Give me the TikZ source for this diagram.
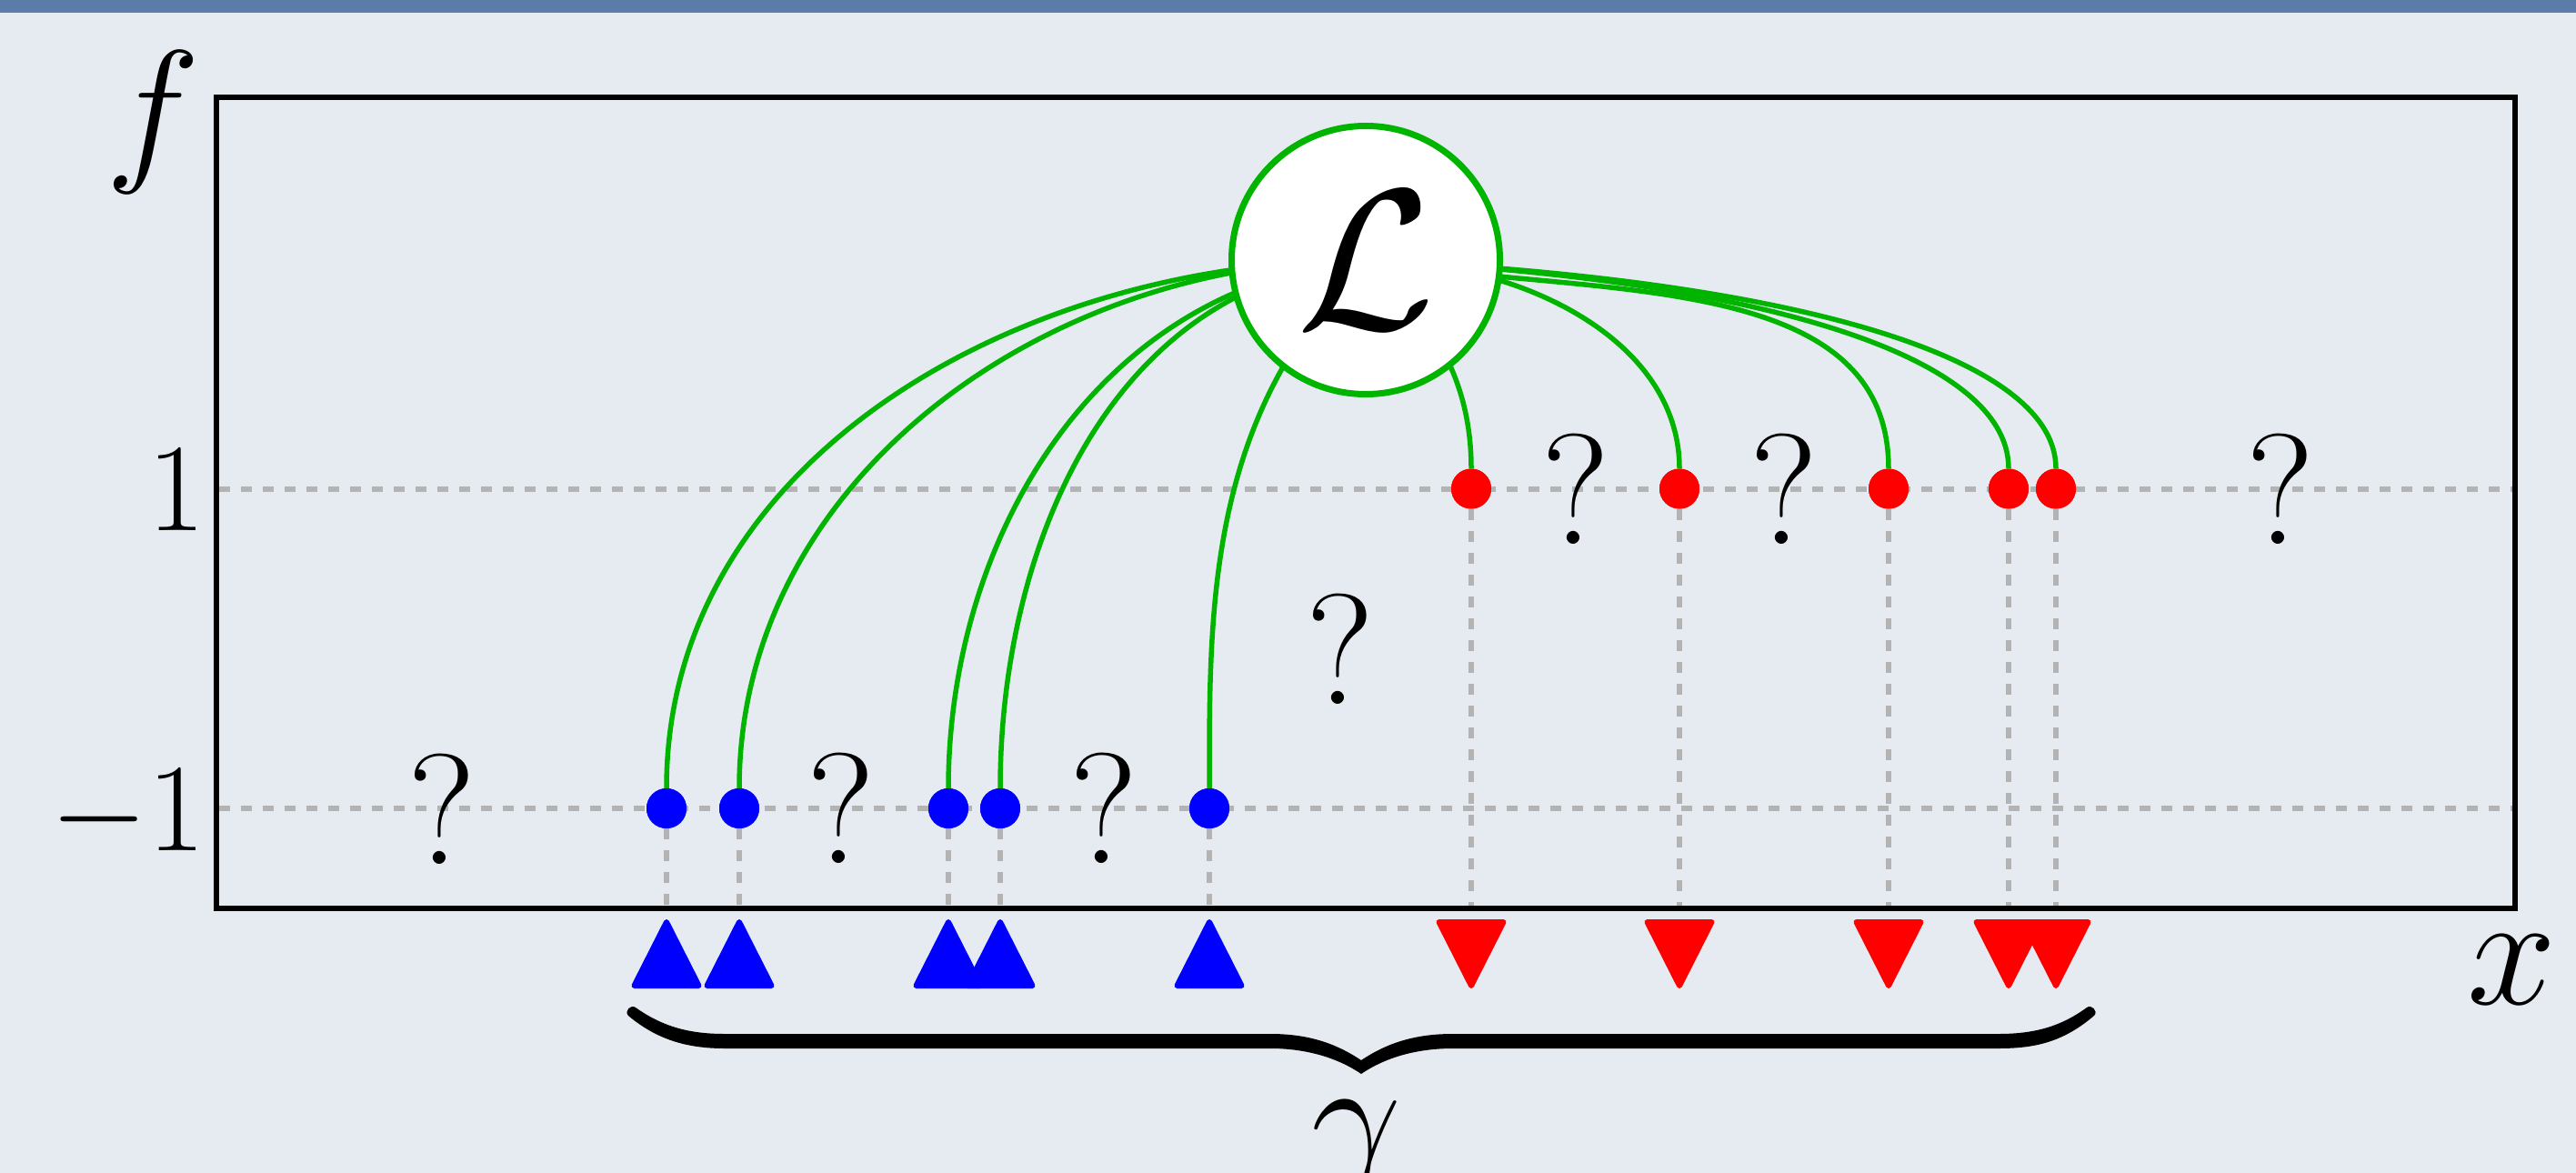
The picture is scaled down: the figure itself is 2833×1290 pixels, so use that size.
\documentclass[tikz,border=0pt]{standalone}
\usepackage{fix-cm}
\definecolor{bgcol}{HTML}{E6EBF2}
\definecolor{topbar}{HTML}{5B7BA8}
\definecolor{lgreen}{HTML}{00B400}
\definecolor{gridgray}{HTML}{B3B3B3}
\begin{document}
\begin{tikzpicture}[x=1pt,y=1pt,
  gridline/.style={gridgray, line width=6pt, dash pattern=on 12pt off 12pt},
  frame/.style={black, line width=6.5pt},
  link/.style={lgreen, line width=5.5pt},
  bdot/.style={circle, fill=blue, minimum size=44pt, inner sep=0pt},
  rdot/.style={circle, fill=red, minimum size=44pt, inner sep=0pt},
  lossnode/.style={circle, draw=lgreen, line width=7pt, fill=white, minimum size=295pt, inner sep=0pt, font=\fontsize{220}{260}\selectfont},
  qmark/.style={inner sep=0pt, font=\fontsize{173}{200}\selectfont},
  axlabel/.style={inner sep=0pt, anchor=base, font=\fontsize{176}{200}\selectfont},
  ticklabel/.style={inner sep=0pt, anchor=base east, font=\fontsize{138}{160}\selectfont},
  uptri/.style={fill=blue, draw=blue, line width=6pt, line join=round},
  dntri/.style={fill=red, draw=red, line width=6pt, line join=round},
]
\useasboundingbox (0,0) rectangle (2833,-1290);
\fill[bgcol] (0,0) rectangle (2833,-1290);
\fill[topbar] (0,0) rectangle (2833,-14);

% frame corners
\coordinate (BL) at (238,-999);
\coordinate (TR) at (2766,-107);

% horizontal grid lines
\draw[gridline] (241,-537.5) -- (2763,-537.5);
\draw[gridline] (241,-889) -- (2763,-889);

% dots
\node[bdot] (b1) at (733,-889) {};
\node[bdot] (b2) at (813,-889) {};
\node[bdot] (b3) at (1043,-889) {};
\node[bdot] (b4) at (1100,-889) {};
\node[bdot] (b5) at (1330,-889) {};
\node[rdot] (r1) at (1618,-537.5) {};
\node[rdot] (r2) at (1847,-537.5) {};
\node[rdot] (r3) at (2077,-537.5) {};
\node[rdot] (r4) at (2209,-537.5) {};
\node[rdot] (r5) at (2261,-537.5) {};

% vertical dashed drops
\foreach \d in {b1,b2,b3,b4,b5,r1,r2,r3,r4,r5}
  \draw[gridline] (\d.south) -- (\d.south |- BL);

% frame
\draw[frame] (BL) rectangle (TR);

% redraw dots above drops
\foreach \d in {b1,b2,b3,b4,b5}
  \fill[blue] (\d) circle (22pt);
\foreach \d in {r1,r2,r3,r4,r5}
  \fill[red] (\d) circle (22pt);

% links from the loss node centre
\coordinate (Lc) at (1502,-286);
\draw[link] (Lc) .. controls +(-383,0) and +(0,383) .. (b1);
\draw[link] (Lc) .. controls +(-358,0) and +(0,358) .. (b2);
\draw[link] (Lc) .. controls +(-296,-26) and +(0,297) .. (b3);
\draw[link] (Lc) .. controls +(-283,-25) and +(0,284) .. (b4);
\draw[link] (Lc) .. controls +(-175,-172) and +(0,220) .. (b5);
\draw[link] (Lc) .. controls +(83,-69) and +(0,108) .. (r1);
\draw[link] (Lc) .. controls +(166,0) and +(0,166) .. (r2);
\draw[link] (Lc) .. controls +(241,-42) and +(0,245) .. (r3);
\draw[link] (Lc) .. controls +(420,-20) and +(0,150) .. (r4);
\draw[link] (Lc) .. controls +(450,-20) and +(0,150) .. (r5);

\node[lossnode] (L) at (Lc) {$\mathcal{L}$};

% triangles
\foreach \x in {733,813,1043,1100,1330}
  \filldraw[uptri] (\x-35.5,-1084) -- (\x,-1014) -- (\x+35.5,-1084) -- cycle;
\foreach \x in {1618,1847,2077,2209,2261}
  \filldraw[dntri] (\x-35.5,-1014) -- (\x+35.5,-1014) -- (\x,-1084) -- cycle;

% brace
\fill[black] (699,-1108) .. controls (730,-1130) and (760,-1137) .. (797,-1137)
  -- (1397,-1137) .. controls (1440,-1137) and (1470,-1148) .. (1497,-1166)
  .. controls (1524,-1148) and (1554,-1137) .. (1598,-1137)
  -- (2198,-1137) .. controls (2235,-1137) and (2265,-1130) .. (2295,-1108)
  .. controls (2300,-1104) and (2308,-1112) .. (2303,-1117)
  .. controls (2270,-1145) and (2240,-1153) .. (2198,-1153)
  -- (1598,-1153) .. controls (1560,-1153) and (1525,-1162) .. (1497,-1181)
  .. controls (1469,-1162) and (1434,-1153) .. (1397,-1153)
  -- (797,-1153) .. controls (755,-1153) and (722,-1143) .. (691,-1117)
  .. controls (686,-1112) and (694,-1104) .. (699,-1108) -- cycle;

% question marks
\node[qmark] (q1) at (486,-890) {?};
\node[qmark] (q2) at (925,-889) {?};
\node[qmark] (q3) at (1214,-889) {?};
\node[qmark] (q4) at (1474,-714) {?};
\node[qmark] (q5) at (1733,-538) {?};
\node[qmark] (q6) at (1962,-538) {?};
\node[qmark] (q7) at (2508,-538) {?};

% axis labels
\node[axlabel] (flab) at (168,-178) {$f$};
\node[axlabel] (xlab) at (2762,-1104) {$x$};
\node[ticklabel] (t1) at (226,-583) {$1$};
\node[ticklabel] (tm1) at (226,-935) {$-1$};
\node[axlabel] (glab) at (1492,-1286) {$\gamma$};
\end{tikzpicture}
\end{document}
